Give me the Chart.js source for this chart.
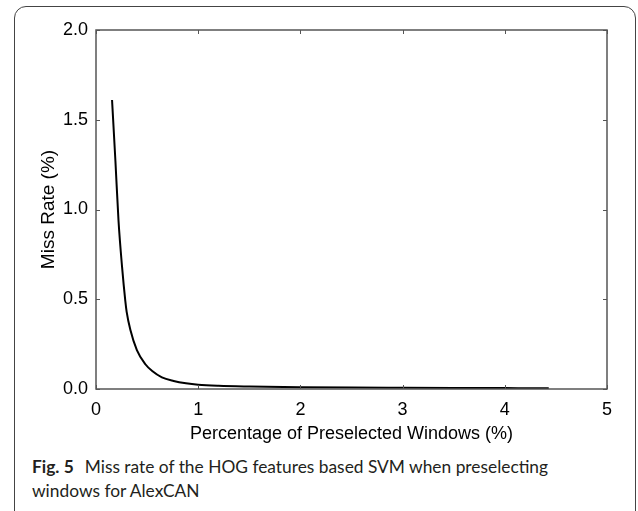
<!DOCTYPE html>
<html>
<head>
<meta charset="utf-8">
<script src="https://cdn.jsdelivr.net/npm/chart.js@4.4.1/dist/chart.umd.min.js"></script>
<style>
  html, body { margin: 0; padding: 0; background: #fff; width: 638px; height: 511px; overflow: hidden; }
  #frame {
    position: absolute; left: 14px; top: 6px; width: 622px; height: 530px;
    box-sizing: border-box; border: 1.5px solid #444; border-radius: 12px;
  }
  #chart { position: absolute; left: 0; top: 0; }
  .cap {
    position: absolute; left: 32px; font-family: Lato, "Open Sans", sans-serif;
    color: #231f20; white-space: nowrap; font-size: 18px; line-height: 1;
  }
  .cap b { font-weight: 700; margin-right: 11px; }
</style>
</head>
<body>
<div id="frame"></div>
<canvas id="chart" width="638" height="445"></canvas>
<div class="cap" id="cap1" style="top:458px"><b>Fig. 5</b>Miss rate of the HOG features based SVM when preselecting</div>
<div class="cap" id="cap2" style="top:482px">windows for AlexCAN</div>
<script>
// percentage of preselected windows (%)
const windowPct = [0.157, 0.19, 0.22, 0.255, 0.287, 0.30, 0.336, 0.40, 0.483, 0.55, 0.645, 0.76, 0.88, 1.0, 1.2, 1.5, 2.0, 2.5, 3.0, 3.5, 4.0, 4.43];
// miss rate (%)
const missRate = [1.61, 1.27, 0.94, 0.68, 0.49, 0.43, 0.33, 0.217, 0.138, 0.10, 0.065, 0.045, 0.032, 0.024, 0.018, 0.014, 0.010, 0.008, 0.007, 0.006, 0.005, 0.004];

const xTicks = [0, 1, 2, 3, 4, 5];
const yTicks = [0, 0.5, 1.0, 1.5, 2.0];

const points = windowPct.map((x, i) => ({ x: x, y: missRate[i] }));

// fit first caption line to the width in the figure
const cap1 = document.getElementById('cap1');
const cap2 = document.getElementById('cap2');
const targetWidth = 516;
const fs = 18 * targetWidth / cap1.getBoundingClientRect().width;
cap1.style.fontSize = fs + 'px';
cap2.style.fontSize = fs + 'px';

// box round the plot with inward ticks on every side
const frameTicks = {
    id: 'frameTicks',
    afterDraw(chart) {
        const { ctx, chartArea: a, scales } = chart;
        ctx.save();
        ctx.strokeStyle = '#555';
        ctx.lineWidth = 1.5;
        ctx.strokeRect(a.left, a.top, a.right - a.left, a.bottom - a.top);
        ctx.lineWidth = 1;
        ctx.beginPath();
        xTicks.forEach(v => {
            const px = Math.round(scales.x.getPixelForValue(v)) + 0.5;
            ctx.moveTo(px, a.bottom); ctx.lineTo(px, a.bottom - 4);
            ctx.moveTo(px, a.top); ctx.lineTo(px, a.top + 4);
        });
        yTicks.forEach(v => {
            const py = Math.round(scales.y.getPixelForValue(v)) + 0.5;
            ctx.moveTo(a.left, py); ctx.lineTo(a.left + 4, py);
            ctx.moveTo(a.right, py); ctx.lineTo(a.right - 4, py);
        });
        ctx.stroke();
        ctx.restore();
    }
};

const tickFont = { family: '"Liberation Sans", Arial, sans-serif', size: 18 };

new Chart(document.getElementById('chart'), {
    type: 'line',
    data: {
        datasets: [{
            data: points,
            borderColor: '#000',
            borderWidth: 2,
            pointRadius: 0,
            cubicInterpolationMode: 'monotone',
            fill: false
        }]
    },
    options: {
        responsive: false,
        animation: false,
        layout: { padding: { left: 37, top: 30, right: 31, bottom: 0 } },
        plugins: { legend: { display: false }, tooltip: { enabled: false } },
        scales: {
            x: {
                type: 'linear',
                min: 0, max: 5,
                afterBuildTicks: (s) => { s.ticks = xTicks.map(v => ({ value: v })); },
                afterFit: (s) => { s.height = 56; },
                grid: { display: false, drawTicks: false, tickLength: 0 },
                border: { display: false },
                ticks: { color: '#000', font: tickFont, padding: 10, maxRotation: 0 },
                title: {
                    display: true,
                    text: 'Percentage of Preselected Windows (%)',
                    color: '#000',
                    font: tickFont,
                    padding: 0
                }
            },
            y: {
                min: 0, max: 2,
                afterBuildTicks: (s) => { s.ticks = yTicks.map(v => ({ value: v })); },
                afterFit: (s) => { s.width = 59; },
                grid: { display: false, drawTicks: false, tickLength: 0 },
                border: { display: false },
                ticks: { color: '#000', font: tickFont, padding: 8, callback: (v) => v.toFixed(1) },
                title: {
                    display: true,
                    text: 'Miss Rate (%)',
                    color: '#000',
                    font: { family: tickFont.family, size: 19 },
                    padding: 0
                }
            }
        }
    },
    plugins: [frameTicks]
});
</script>
</body>
</html>
